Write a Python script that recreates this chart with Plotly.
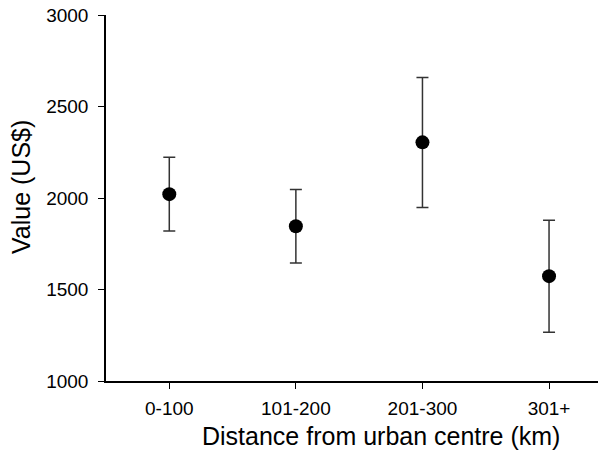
import plotly.graph_objects as go

categories = ["0-100", "101-200", "201-300", "301+"]
means = [2021, 1846, 2304, 1573]
upper = [2223, 2047, 2659, 1879]
lower = [1820, 1645, 1948, 1266]

err_plus = [u - m for u, m in zip(upper, means)]
err_minus = [m - l for m, l in zip(means, lower)]

x_pos = list(range(len(categories)))

fig = go.Figure()
fig.add_trace(go.Scatter(
    x=x_pos, y=means, mode="markers",
    marker=dict(color="black", size=14, symbol="circle"),
    error_y=dict(type="data", symmetric=False, array=err_plus, arrayminus=err_minus,
                 color="#333333", thickness=1.5, width=6),
    showlegend=False,
))

font_family = "Liberation Sans, Arial, sans-serif"

# page body adds an 8px offset at top/left, so the figure is sized to compensate
fig.update_layout(
    width=598, height=442,
    margin=dict(l=98, r=0, t=7, b=69, autoexpand=False),
    paper_bgcolor="white", plot_bgcolor="white",
    font=dict(family=font_family, color="black"),
    xaxis=dict(
        range=[-0.5, 3.45], tickmode="array", tickvals=x_pos, ticktext=categories,
        showline=True, linecolor="black", linewidth=1.5, ticks="outside", ticklen=6,
        tickcolor="black", tickwidth=1.2, showgrid=False, zeroline=False,
        tickfont=dict(size=19, family=font_family, color="black"),
        ticklabelstandoff=3, automargin=False,
    ),
    yaxis=dict(
        range=[1000, 3000], tickvals=[1000, 1500, 2000, 2500, 3000],
        showline=True, linecolor="black", linewidth=1.5, ticks="outside", ticklen=6,
        tickcolor="black", tickwidth=1.2, showgrid=False, zeroline=False,
        tickfont=dict(size=19, family=font_family, color="black"),
        ticklabelstandoff=6, ticklabeloverflow="allow", automargin=False,
    ),
    annotations=[
        dict(text="Distance from urban centre (km)", xref="paper", yref="paper",
             x=(381 - 106) / 500, y=-(436 - 381) / 366, xanchor="center", yanchor="middle",
             showarrow=False, font=dict(size=25, family=font_family, color="black")),
        dict(text="Value (US$)", xref="paper", yref="paper",
             x=-(106 - 21) / 500, y=(381 - 187) / 366, xanchor="center", yanchor="middle",
             textangle=-90, showarrow=False,
             font=dict(size=25, family=font_family, color="black")),
    ],
)

fig.write_html("out.html")
